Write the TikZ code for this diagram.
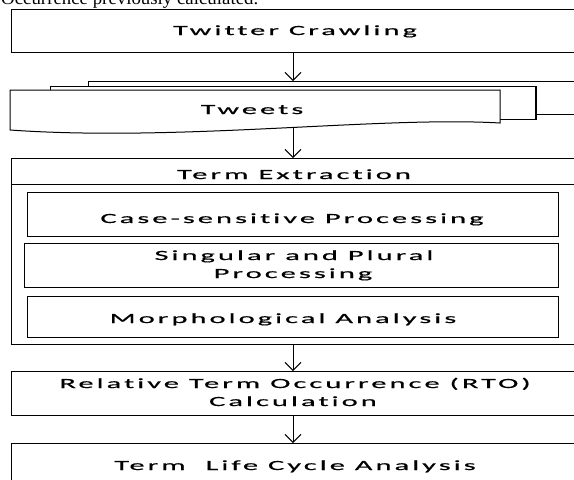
\documentclass[tikz,border=0pt]{standalone}
\usepackage{fontspec}
\usetikzlibrary{arrows.meta}
\newfontfamily\dgfam[FakeStretch=2.0,LetterSpace=20,FakeBold=0.6,Ligatures={NoCommon}]{Carlito}
\newfontfamily\topfam{Liberation Serif}
\newcommand\dgfont{\dgfam\fontsize{14pt}{18pt}\selectfont}
\newlength\twW
\newcommand\lb[1]{\scalebox{\xf}[1]{#1}}
\begin{document}%
\settowidth\twW{\dgfont Twitter Crawling}%
\pgfmathsetmacro\xf{244/\twW}%
\begin{tikzpicture}[x=1pt,y=-1pt,
 box/.style={draw=black, line width=1pt, fill=white, inner sep=0pt, outer sep=0pt, anchor=north west},
 lbl/.style={font=\dgfont, inner sep=0pt, anchor=base},
 doc/.style={draw=black, line width=1pt, fill=white},
 arr/.style={draw=black, line width=1pt, -{Straight Barb[length=8pt,width=16pt]}}]
\useasboundingbox (0,0) rectangle (574,480);
\clip (0,0) rectangle (574,480);
\fill[white] (0,0) rectangle (574,480);
\node[font=\topfam\fontsize{18pt}{22pt}\selectfont, anchor=base west, inner sep=0pt] (prev) at (1,4.5) {\resizebox{257pt}{\height}{Occurrence previously calculated.}};

\node[box, minimum width=600pt, minimum height=43pt] (crawl) at (11,9) {};
\node[lbl] (tcrawl) at (295,35) {\lb{Twitter Crawling}};

\draw[doc] (88,114) -- (88,81) -- (600,81) -- (600,114) -- cycle;
\draw[doc] (50,86) -- (536,86) -- (536,119) -- (50,119) -- cycle;
\draw[line width=2pt] (536,86) -- (536,119);
\draw[doc] (10,90) -- (500,90) -- (500,123) .. controls (380,116) and (180,142) .. (10,130) -- cycle;
\node[lbl] (ttweets) at (252,114) {\lb{Tweets}};
\coordinate (backtop) at (293,81);
\coordinate (frontbot) at (293,128);

\node[box, minimum width=600pt, minimum height=186pt] (term) at (11,158) {};
\draw[line width=1pt] ([yshift=-26pt]term.north west) -- ([yshift=-26pt]term.north east);
\node[lbl] (tterm) at (294,179) {\lb{Term Extraction}};

\node[box, minimum width=530.5pt, minimum height=44pt] (case) at (27.5,192) {};
\node[lbl] (tcase) at (292,223) {\lb{Case-sensitive Processing}};
\node[box, minimum width=534pt, minimum height=44pt] (sing) at (24,243) {};
\node[lbl] (tsing1) at (294,260) {\lb{Singular and Plural}};
\node[lbl] (tsing2) at (293,278) {\lb{Processing}};
\node[box, minimum width=530.5pt, minimum height=41pt] (morph) at (27.5,296) {};
\node[lbl] (tmorph) at (283,323) {\lb{Morphological Analysis}};

\node[box, minimum width=600pt, minimum height=44pt] (rto) at (11,371) {};
\node[lbl] (trto1) at (295,388) {\lb{Relative Term Occurrence (RTO)}};
\node[lbl] (trto2) at (293,406) {\lb{Calculation}};

\node[box, minimum width=600pt, minimum height=60pt] (life) at (11,443) {};
\node[lbl] (tlife) at (295,470) {\lb{Term\ \ Life Cycle Analysis}};

\coordinate (ax) at (293,0);
\draw[arr] (crawl.south -| ax) -- (backtop);
\draw[arr] (frontbot) -- (term.north -| ax);
\draw[arr] (term.south -| ax) -- (rto.north -| ax);
\draw[arr] (rto.south -| ax) -- (life.north -| ax);
\end{tikzpicture}%
\end{document}
